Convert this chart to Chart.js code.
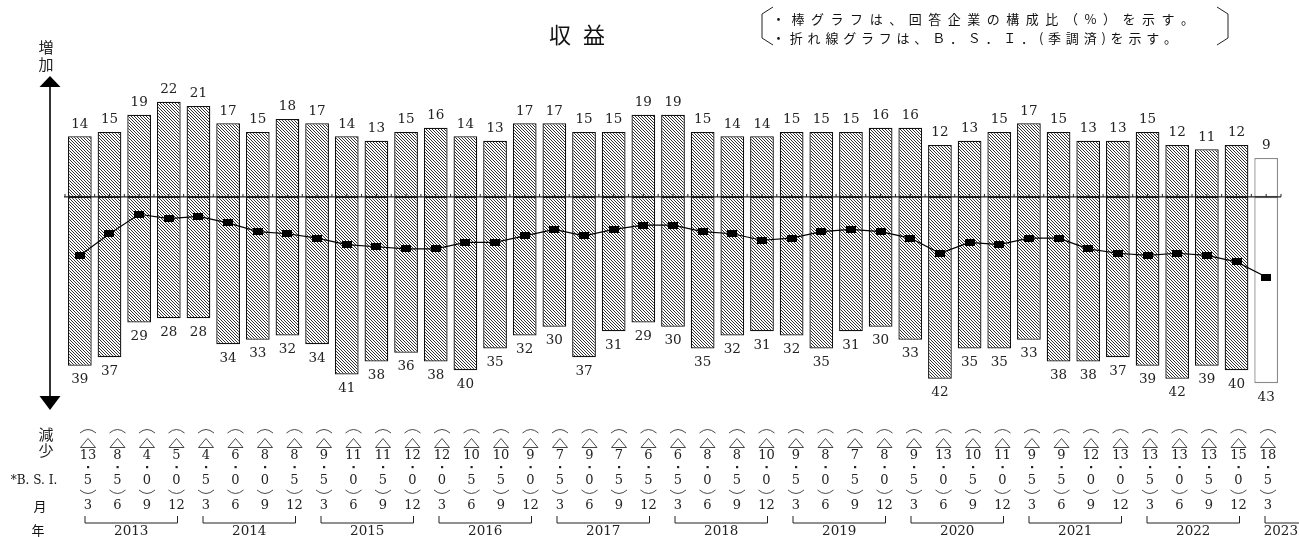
<!DOCTYPE html>
<html lang="ja">
<head>
<meta charset="utf-8">
<title>収益</title>
<script src="https://cdn.jsdelivr.net/npm/chart.js@4.4.1/dist/chart.umd.min.js"></script>
<style>
  html, body { margin: 0; padding: 0; background: #fff; }
  #wrap { width: 1299px; height: 537px; position: relative; }
</style>
</head>
<body>
<div id="wrap"><canvas id="chart" width="1299" height="537"></canvas></div>
<script>
// quarter months (Mar, Jun, Sep, Dec) from 2013/3 to 2023/3
const months = [3,6,9,12, 3,6,9,12, 3,6,9,12, 3,6,9,12, 3,6,9,12,
                3,6,9,12, 3,6,9,12, 3,6,9,12, 3,6,9,12, 3,6,9,12, 3];
const yearLabels = ["2013","2014","2015","2016","2017","2018","2019","2020","2021","2022","2023"];

// share of firms answering "increase" (%)
const upShare = [14,15,19,22, 21,17,15,18, 17,14,13,15, 16,14,13,17, 17,15,15,19,
                 19,15,14,14, 15,15,15,16, 16,12,13,15, 17,15,13,13, 15,12,11,12, 9];
// share of firms answering "decrease" (%)
const downShare = [39,37,29,28, 28,34,33,32, 34,41,38,36, 38,40,35,32, 30,37,31,29,
                   30,35,32,31, 32,35,31,30, 33,42,35,35, 33,38,38,37, 39,42,39,40, 43];
// B.S.I. (seasonally adjusted)
const bsi = [-13.5,-8.5,-4.0,-5.0, -4.5,-6.0,-8.0,-8.5, -9.5,-11.0,-11.5,-12.0,
             -12.0,-10.5,-10.5,-9.0, -7.5,-9.0,-7.5,-6.5, -6.5,-8.0,-8.5,-10.0,
             -9.5,-8.0,-7.5,-8.0, -9.5,-13.0,-10.5,-11.0, -9.5,-9.5,-12.0,-13.0,
             -13.5,-13.0,-13.5,-15.0, -18.5];

const quarters = months.map((m, i) => yearLabels[Math.floor(i / 4)] + "/" + m);
const lastIdx = quarters.length - 1;

const SERIF = '"DejaVu Serif", "Liberation Serif", serif';
const JP = '"Noto Sans CJK JP", "Noto Sans", sans-serif';

// diagonal hatch used for the bars
function makeHatch() {
    const s = 3;
    const c = document.createElement("canvas");
    c.width = s; c.height = s;
    const g = c.getContext("2d");
    g.fillStyle = "#fff";
    g.fillRect(0, 0, s, s);
    g.strokeStyle = "#1a1a1a";
    g.lineWidth = 0.9;
    g.beginPath();
    g.moveTo(-1, -1); g.lineTo(s + 1, s + 1);
    g.moveTo(-1, s - 1); g.lineTo(1, s + 1);
    g.moveTo(s - 1, -1); g.lineTo(s + 1, 1);
    g.stroke();
    return g.createPattern(c, "repeat");
}

// wide black rectangle marker for the B.S.I. line
function makeMarker() {
    const c = document.createElement("canvas");
    c.width = 10; c.height = 7;
    const g = c.getContext("2d");
    g.fillStyle = "#000";
    g.fillRect(0, 0, 10, 7);
    return c;
}

const hatch = makeHatch();
const barFill = quarters.map((q, i) => i === lastIdx ? "#fff" : hatch);
const barEdge = quarters.map((q, i) => i === lastIdx ? "#8a8a8a" : "#111");

function spacedText(ctx, str, x, y, width) {
    const chars = Array.from(str);
    const widths = chars.map(c => ctx.measureText(c).width);
    const total = widths.reduce((a, b) => a + b, 0);
    const gap = (width - total) / (chars.length - 1);
    let cx = x;
    chars.forEach((c, i) => {
        ctx.fillText(c, cx, y);
        cx += widths[i] + gap;
    });
}

// table columns sit slightly to the right of the bars
function colX(i) {
    return 88 + i * (1268 - 88) / lastIdx;
}

const decor = {
    id: "decor",
    afterDatasetsDraw(chart) {
        const ctx = chart.ctx;
        const xs = chart.scales.x, ys = chart.scales.y;
        const area = chart.chartArea;
        const y0 = ys.getPixelForValue(0);
        const step = xs.getPixelForValue(1) - xs.getPixelForValue(0);

        ctx.save();
        ctx.textAlign = "center";
        ctx.textBaseline = "middle";

        // zero line with small ticks
        ctx.strokeStyle = "#222";
        ctx.lineWidth = 1.2;
        ctx.beginPath();
        ctx.moveTo(area.left - 1, y0);
        ctx.lineTo(area.right, y0);
        ctx.stroke();
        ctx.lineWidth = 1;
        ctx.beginPath();
        for (let i = 0; i <= quarters.length; i++) {
            const bx = xs.getPixelForValue(0) - step / 2 + i * step;
            ctx.moveTo(bx, y0); ctx.lineTo(bx, y0 - 3);
            if (i < quarters.length) {
                const cx = xs.getPixelForValue(i);
                ctx.moveTo(cx, y0); ctx.lineTo(cx, y0 - 3);
            }
        }
        ctx.stroke();

        // bar value labels
        ctx.fillStyle = "#222";
        ctx.font = "13.5px " + SERIF;
        chart.getDatasetMeta(1).data.forEach((el, i) => {
            ctx.fillText(String(upShare[i]), el.x, el.y - 12);
        });
        chart.getDatasetMeta(2).data.forEach((el, i) => {
            ctx.fillText(String(downShare[i]), el.x, el.y + 14);
        });

        // vertical double arrow
        ctx.strokeStyle = "#000";
        ctx.fillStyle = "#000";
        ctx.lineWidth = 1.6;
        ctx.beginPath();
        ctx.moveTo(50, 85); ctx.lineTo(50, 397);
        ctx.stroke();
        ctx.beginPath();
        ctx.moveTo(50, 76); ctx.lineTo(39.5, 87); ctx.lineTo(60.5, 87); ctx.closePath();
        ctx.fill();
        ctx.beginPath();
        ctx.moveTo(50, 410); ctx.lineTo(39.5, 396); ctx.lineTo(60.5, 396); ctx.closePath();
        ctx.fill();

        ctx.fillStyle = "#222";
        ctx.font = "15px " + JP;
        ctx.fillText("増", 46, 47);
        ctx.fillText("加", 46, 64);
        ctx.fillText("減", 46, 434);
        ctx.fillText("少", 46, 450);

        // title
        ctx.font = "22px " + JP;
        ctx.fillStyle = "#111";
        ctx.fillText("収", 560, 35);
        ctx.fillText("益", 594, 35);

        // note box
        ctx.strokeStyle = "#222";
        ctx.lineWidth = 1;
        ctx.beginPath();
        ctx.moveTo(773, 7); ctx.lineTo(762, 14); ctx.lineTo(762, 38); ctx.lineTo(773, 45);
        ctx.moveTo(1217, 7); ctx.lineTo(1228, 14); ctx.lineTo(1228, 38); ctx.lineTo(1217, 45);
        ctx.stroke();
        ctx.textAlign = "left";
        ctx.font = "13px " + JP;
        spacedText(ctx, "・棒グラフは、回答企業の構成比（%）を示す。", 772, 19, 422);
        spacedText(ctx, "・折れ線グラフは、Ｂ．Ｓ．Ｉ．(季調済)を示す。", 772, 38, 405);

        // table below the chart
        ctx.textAlign = "center";
        ctx.font = "12px " + SERIF;
        ctx.fillText("*B. S. I.", 34, 481);
        ctx.font = "13px " + JP;
        ctx.fillText("月", 40, 506);
        ctx.fillText("年", 38, 530);

        ctx.strokeStyle = "#333";
        ctx.lineWidth = 0.9;
        bsi.forEach((v, i) => {
            const cx = colX(i);
            const parts = Math.abs(v).toFixed(1).split(".");
            ctx.beginPath();
            ctx.moveTo(cx - 8, 433); ctx.quadraticCurveTo(cx, 426, cx + 8, 433);
            ctx.moveTo(cx - 8, 490); ctx.quadraticCurveTo(cx, 497, cx + 8, 490);
            ctx.stroke();
            ctx.beginPath();
            ctx.moveTo(cx, 438.5); ctx.lineTo(cx - 7.5, 447.5); ctx.lineTo(cx + 7.5, 447.5); ctx.closePath();
            ctx.stroke();
            ctx.fillStyle = "#222";
            ctx.font = "13px " + SERIF;
            ctx.fillText(parts[0], cx, 456);
            ctx.fillRect(cx - 1, 466, 2.2, 2.2);
            ctx.fillText(parts[1], cx, 481);
            ctx.fillText(String(months[i]), cx, 506);
        });

        // year brackets
        ctx.strokeStyle = "#222";
        ctx.lineWidth = 1;
        yearLabels.forEach((yr, k) => {
            const first = k * 4;
            const last = Math.min(first + 3, lastIdx);
            const x1 = colX(first) - 3;
            const x2 = last === first ? 1299 : colX(last) + 1;
            ctx.beginPath();
            ctx.moveTo(x1, 516); ctx.lineTo(x1, 523); ctx.lineTo(x2, 523);
            if (last !== first) ctx.lineTo(x2, 516);
            ctx.stroke();
            ctx.font = "13.5px " + SERIF;
            if (last === first) {
                ctx.textAlign = "right";
                ctx.fillText(yr, 1298, 531);
                ctx.textAlign = "center";
            } else {
                ctx.fillText(yr, (x1 + x2) / 2, 531);
            }
        });

        ctx.restore();
    }
};

new Chart(document.getElementById("chart"), {
    data: {
        labels: quarters,
        datasets: [
            {
                type: "line",
                label: "B.S.I.",
                data: bsi,
                borderColor: "#000",
                borderWidth: 1.2,
                tension: 0,
                pointStyle: makeMarker(),
                order: 0
            },
            {
                type: "bar",
                label: "増加",
                data: upShare,
                backgroundColor: barFill,
                borderColor: barEdge,
                borderWidth: 1.3,
                borderSkipped: false,
                grouped: false,
                barPercentage: 0.8,
                categoryPercentage: 1,
                order: 1
            },
            {
                type: "bar",
                label: "減少",
                data: downShare.map(v => -v),
                backgroundColor: barFill,
                borderColor: barEdge,
                borderWidth: 1.3,
                borderSkipped: false,
                grouped: false,
                barPercentage: 0.8,
                categoryPercentage: 1,
                order: 1
            }
        ]
    },
    options: {
        responsive: false,
        devicePixelRatio: 1,
        animation: false,
        layout: { padding: { left: 65, right: 18, top: 80, bottom: 127 } },
        plugins: {
            legend: { display: false },
            tooltip: { enabled: false },
            title: { display: false }
        },
        scales: {
            x: { type: "category", offset: true, display: false, grid: { display: false } },
            y: { min: -49.2, max: 27, display: false, grid: { display: false } }
        }
    },
    plugins: [decor]
});
</script>
</body>
</html>
